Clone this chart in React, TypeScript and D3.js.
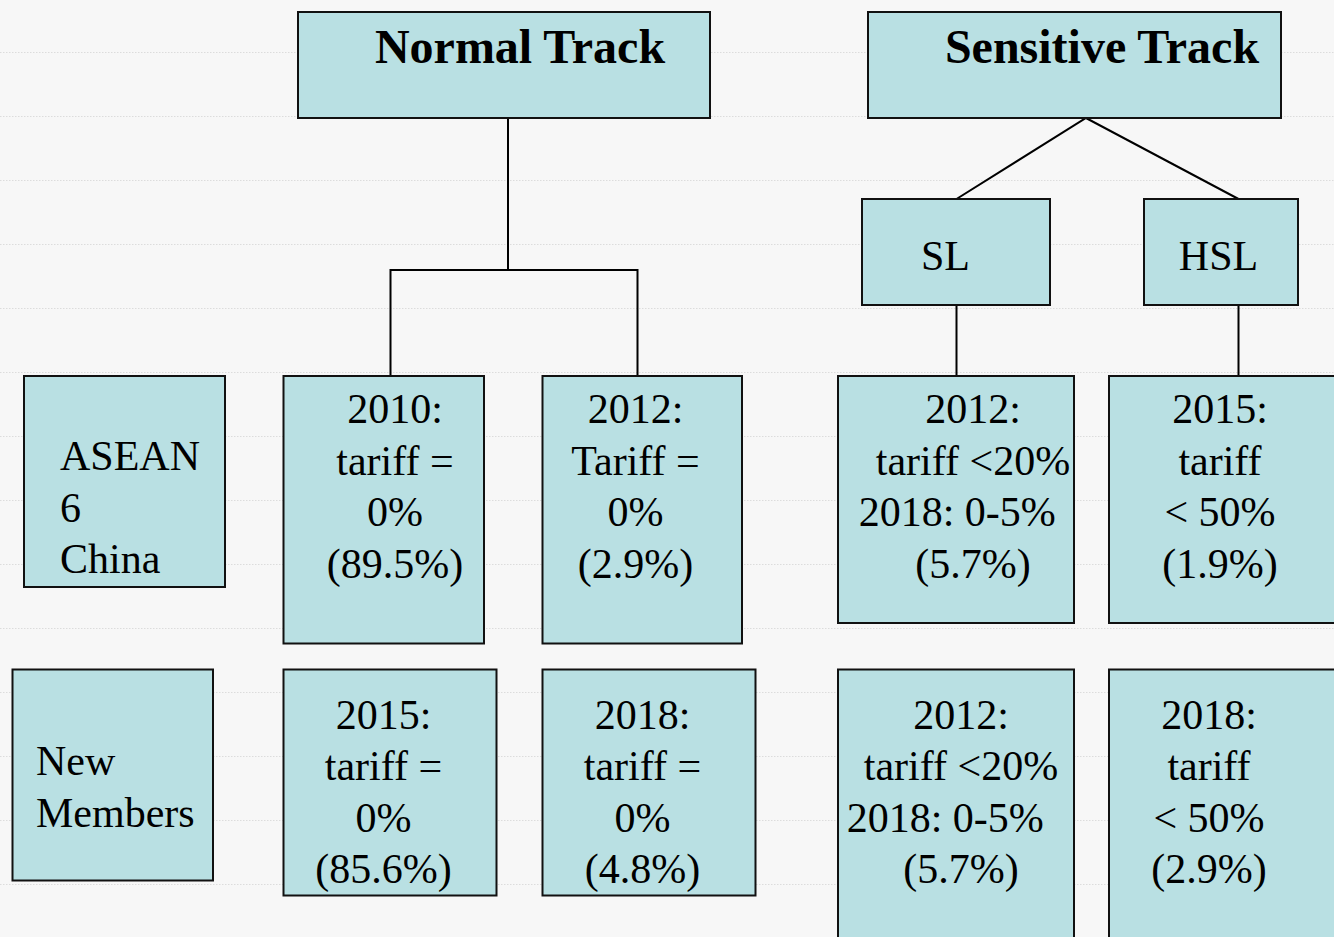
import { useEffect, useRef } from "react";
import * as d3 from "d3";

// ---- content ----
const trackTitles = ["Normal Track", "Sensitive Track"];
const sensitiveLevels = ["SL", "HSL"];
const memberGroups = [
  ["ASEAN", "6", "China"],
  ["New", "Members"],
];
const normalAsean6 = [
  ["2010:", "tariff =", "0%", "(89.5%)"],
  ["2012:", "Tariff =", "0%", "(2.9%)"],
];
const normalNewMembers = [
  ["2015:", "tariff =", "0%", "(85.6%)"],
  ["2018:", "tariff =", "0%", "(4.8%)"],
];
const sensitiveAsean6 = [
  ["2012:", "tariff <20%", "2018: 0-5%\u00a0\u00a0\u00a0", "(5.7%)"],
  ["2015:", "tariff", "< 50%", "(1.9%)"],
];
const sensitiveNewMembers = [
  ["2012:", "tariff <20%", "2018: 0-5%\u00a0\u00a0\u00a0", "(5.7%)"],
  ["2018:", "tariff", "< 50%", "(2.9%)"],
];

// ---- layout ----
const W = 1334;
const H = 937;
const FILL = "#b9e0e3";
const BG = "#f7f7f7";
const FONT = "'Liberation Serif', 'Times New Roman', serif";

interface Box {
  x: number;
  y: number;
  w: number;
  h: number;
  lines: string[];
  tx: number; // text anchor x
  ty: number; // first baseline
  align: "middle" | "start";
  size: number;
  bold?: boolean;
}

export default function App() {
  const svgRef = useRef<SVGSVGElement>(null);

  useEffect(() => {
    if (!svgRef.current) return;
    const svg = d3.select(svgRef.current);
    svg.selectAll("*").remove();

    svg.append("rect").attr("width", W).attr("height", H).attr("fill", BG);

    // faint dotted guide lines
    const guides = d3.range(52.5, H, 64);
    svg
      .append("g")
      .selectAll("line")
      .data(guides)
      .join("line")
      .attr("x1", 0)
      .attr("x2", W)
      .attr("y1", (d) => d)
      .attr("y2", (d) => d)
      .attr("stroke", "#dcdcdc")
      .attr("stroke-width", 1)
      .attr("stroke-dasharray", "1.5,1.5");

    const lineH = 51.5;
    const boxes: Box[] = [
      { x: 298, y: 12, w: 412, h: 106, lines: [trackTitles[0]], tx: 520, ty: 63, align: "middle", size: 48, bold: true },
      { x: 868, y: 12, w: 413, h: 106, lines: [trackTitles[1]], tx: 1102, ty: 63, align: "middle", size: 48, bold: true },
      { x: 862, y: 199, w: 188, h: 106, lines: [sensitiveLevels[0]], tx: 945.5, ty: 270, align: "middle", size: 42 },
      { x: 1144, y: 199, w: 154, h: 106, lines: [sensitiveLevels[1]], tx: 1218.5, ty: 270, align: "middle", size: 42 },
      { x: 24, y: 376, w: 201, h: 211, lines: memberGroups[0], tx: 60, ty: 470, align: "start", size: 42 },
      { x: 12.5, y: 669.5, w: 200.5, h: 211, lines: memberGroups[1], tx: 36, ty: 775, align: "start", size: 42 },
      { x: 283.5, y: 376, w: 200.5, h: 267.5, lines: normalAsean6[0], tx: 395, ty: 423, align: "middle", size: 42 },
      { x: 542.5, y: 376, w: 199.5, h: 267.5, lines: normalAsean6[1], tx: 635.5, ty: 423, align: "middle", size: 42 },
      { x: 838, y: 376, w: 236, h: 247, lines: sensitiveAsean6[0], tx: 973, ty: 423, align: "middle", size: 42 },
      { x: 1109, y: 376, w: 240, h: 247, lines: sensitiveAsean6[1], tx: 1220, ty: 423, align: "middle", size: 42 },
      { x: 283.5, y: 669.5, w: 213, h: 226, lines: normalNewMembers[0], tx: 383.5, ty: 728.5, align: "middle", size: 42 },
      { x: 542.5, y: 669.5, w: 213, h: 226, lines: normalNewMembers[1], tx: 642.5, ty: 728.5, align: "middle", size: 42 },
      { x: 838, y: 669.5, w: 236, h: 290, lines: sensitiveNewMembers[0], tx: 961, ty: 728.5, align: "middle", size: 42 },
      { x: 1109, y: 669.5, w: 240, h: 290, lines: sensitiveNewMembers[1], tx: 1209, ty: 728.5, align: "middle", size: 42 },
    ];

    // connectors
    const connectors: [number, number][][] = [
      [[508, 118], [508, 270]],
      [[390.5, 376], [390.5, 270], [637.5, 270], [637.5, 376]],
      [[956.5, 199], [1086, 118], [1238.5, 199]],
      [[956.5, 305], [956.5, 376]],
      [[1238.5, 305], [1238.5, 376]],
    ];
    const line = d3.line();
    svg
      .append("g")
      .selectAll("path")
      .data(connectors)
      .join("path")
      .attr("d", (d) => line(d))
      .attr("fill", "none")
      .attr("stroke", "#000")
      .attr("stroke-width", 2);

    const node = svg.append("g").selectAll("g").data(boxes).join("g");

    node
      .append("rect")
      .attr("x", (d) => d.x)
      .attr("y", (d) => d.y)
      .attr("width", (d) => d.w)
      .attr("height", (d) => d.h)
      .attr("fill", FILL)
      .attr("stroke", "#111")
      .attr("stroke-width", 2);

    node
      .append("text")
      .attr("font-family", FONT)
      .attr("font-size", (d) => d.size)
      .attr("font-weight", (d) => (d.bold ? "bold" : "normal"))
      .attr("text-anchor", (d) => d.align)
      .attr("fill", "#000")
      .each(function (d) {
        d3.select(this)
          .selectAll("tspan")
          .data(d.lines)
          .join("tspan")
          .attr("x", d.tx)
          .attr("y", (_, i) => d.ty + i * lineH)
          .text((t) => t);
      });
  }, []);

  return (
    <svg
      ref={svgRef}
      width={W}
      height={H}
      style={{ position: "absolute", left: 0, top: 0, display: "block" }}
    />
  );
}
